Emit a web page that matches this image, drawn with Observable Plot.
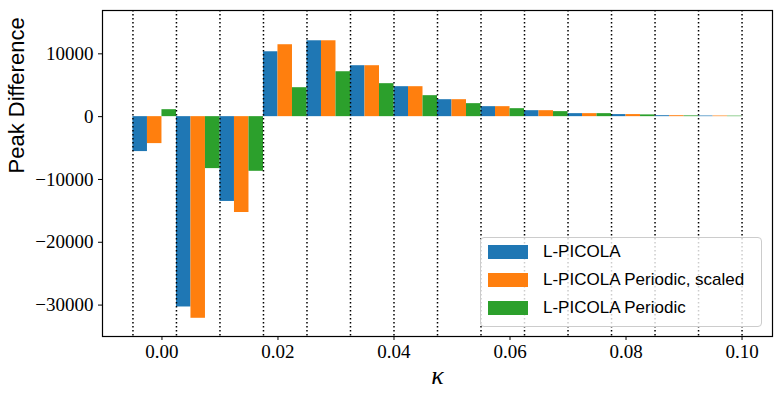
<!DOCTYPE html>
<html><head><meta charset="utf-8">
<script src="https://cdn.jsdelivr.net/npm/d3@7"></script>
<script src="https://cdn.jsdelivr.net/npm/@observablehq/plot@0.6"></script>
<style>
body{margin:0;background:#fff;}
#wrap{position:relative;width:781px;height:394px;}
.legend{position:absolute;left:480px;top:237px;width:282px;height:90px;box-sizing:border-box;background:rgba(255,255,255,0.8);border:1px solid #cccccc;border-radius:4px;font-family:"Liberation Sans",sans-serif;font-size:17px;color:#000;}
.row{display:flex;align-items:center;height:28px;}
.sw{width:40px;height:14px;margin-left:7px;margin-right:15px;flex:none;}
g[aria-label$="tick label"] text{font-family:"Liberation Serif",serif !important;}
</style></head>
<body><div id="wrap"></div>
<script>
// bin edges (kappa)
const binEdges = [-0.005, 0.0025, 0.01, 0.0175, 0.025, 0.0325, 0.04, 0.0475, 0.055, 0.0625, 0.07, 0.0775, 0.085, 0.0925, 0.1];
const seriesNames = ["L-PICOLA", "L-PICOLA Periodic, scaled", "L-PICOLA Periodic"];
const seriesColors = ["#1f77b4", "#ff7f0e", "#2ca02c"];
const lpicola         = [-5560, -30300, -13500, 10330, 12080, 8110, 4770, 2700, 1590, 950, 480, 330, 150, 100];
const periodicScaled  = [-4290, -32100, -15260, 11450, 12080, 8110, 4770, 2700, 1590, 950, 480, 330, 150, 100];
const periodic        = [ 1110,  -8270,  -8700,  4610,  7150, 5250, 3340, 2070, 1270, 800, 480, 280, 120, 80];
const xTicks = [0, 0.02, 0.04, 0.06, 0.08, 0.1];
const yTicks = [-30000, -20000, -10000, 0, 10000];

const seriesVals = [lpicola, periodicScaled, periodic];
const rows = [];
seriesVals.forEach((vals, k) => {
  vals.forEach((v, i) => {
    const w = (binEdges[i+1] - binEdges[i]) / 3;
    rows.push({series: seriesNames[k], x1: binEdges[i] + k*w, x2: binEdges[i] + (k+1)*w, v});
  });
});

const serif = '"Liberation Serif", serif';
const chart = Plot.plot({
  width: 781, height: 394,
  marginLeft: 102, marginRight: 9, marginTop: 10, marginBottom: 58,
  style: {background: "#fff", color: "#000", fontFamily: serif},
  x: {domain: [-0.01025, 0.10525]},
  y: {domain: [-35000, 16900]},
  color: {domain: seriesNames, range: seriesColors},
  marks: [
    Plot.rectY(rows, {x1: "x1", x2: "x2", y: "v", fill: "series"}),
    Plot.ruleX(binEdges, {stroke: "#000", strokeWidth: 1.5, strokeDasharray: "1.5,2.5"}),
    Plot.frame({stroke: "#000", strokeWidth: 1.2}),
    Plot.axisX({ticks: xTicks, tickFormat: ".2f", tickSize: 4, tickPadding: 4, fontSize: 19, fontFamily: serif, label: null}),
    Plot.axisY({ticks: yTicks, tickFormat: "d", tickSize: 4, tickPadding: 5, fontSize: 19, fontFamily: serif, label: null}),
    Plot.text(["Peak Difference"], {frameAnchor: "left", dx: -86, rotate: -90, fontSize: 22, fontFamily: '"Liberation Sans", sans-serif'}),
    Plot.text(["κ"], {frameAnchor: "bottom", dy: 47, fontSize: 26, fontStyle: "italic", fontFamily: serif})
  ]
});
const wrap = document.getElementById("wrap");
wrap.appendChild(chart);

const leg = document.createElement("div");
leg.className = "legend";
seriesNames.forEach((n, k) => {
  const r = document.createElement("div"); r.className = "row";
  const s = document.createElement("div"); s.className = "sw"; s.style.background = seriesColors[k];
  const t = document.createElement("span"); t.textContent = n;
  r.appendChild(s); r.appendChild(t); leg.appendChild(r);
});
wrap.appendChild(leg);
</script></body></html>
